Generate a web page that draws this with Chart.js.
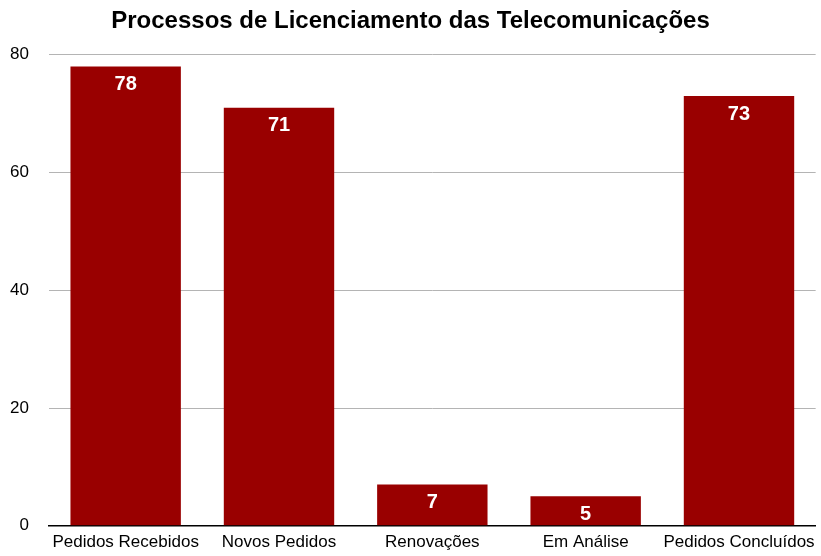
<!DOCTYPE html>
<html>
<head>
<meta charset="utf-8">
<script src="https://cdn.jsdelivr.net/npm/chart.js@4"></script>
<style>
  html, body { margin: 0; padding: 0; background: #ffffff; overflow: hidden; }
  #chart { display: block; width: 821px; height: 556px; }
</style>
</head>
<body>
<canvas id="chart" width="821" height="556"></canvas>
<script>
const categories = ["Pedidos Recebidos", "Novos Pedidos", "Renovações", "Em Análise", "Pedidos Concluídos"]
const values = [78, 71, 7, 5, 73]
const yTicks = [0, 20, 40, 60, 80]

const FONT = "Helvetica, Arial, 'Liberation Sans', sans-serif"

// Valores brancos dentro do topo de cada barra
const barLabels = {
  id: "barLabels",
  afterDatasetsDraw(chart) {
    const ctx = chart.ctx
    const meta = chart.getDatasetMeta(0)
    ctx.save()
    ctx.fillStyle = "#ffffff"
    ctx.font = "bold 20px " + FONT
    ctx.textAlign = "center"
    ctx.textBaseline = "middle"
    meta.data.forEach((bar, i) => {
      ctx.fillText(String(values[i]), bar.x, bar.y + 18)
    })
    ctx.restore()
  }
}

new Chart(document.getElementById("chart"), {
  type: "bar",
  data: {
    labels: categories,
    datasets: [{
      data: values,
      backgroundColor: "#990000",
      borderWidth: 0,
      categoryPercentage: 0.72,
      barPercentage: 1.0
    }]
  },
  options: {
    responsive: false,
    maintainAspectRatio: false,
    animation: false,
    layout: { autoPadding: false, padding: { left: 4, right: 4, top: 0, bottom: -4 } },
    plugins: {
      legend: { display: false },
      tooltip: { enabled: false },
      title: {
        display: true,
        text: "Processos de Licenciamento das Telecomunicações",
        color: "#000000",
        font: { family: FONT, size: 24, weight: "bold" },
        padding: { top: 7, bottom: 19 }
      }
    },
    scales: {
      x: {
        afterFit: (scale) => { scale.height = 27 },
        grid: { display: false, drawTicks: false },
        border: { color: "#000000", width: 1.5 },
        ticks: {
          color: "#000000",
          font: { family: FONT, size: 17 },
          padding: 6,
          maxRotation: 0,
          autoSkip: false
        }
      },
      y: {
        min: 0,
        max: 80,
        afterBuildTicks: (scale) => { scale.ticks = yTicks.map(v => ({ value: v })) },
        afterFit: (scale) => { scale.width = 45 },
        grid: {
          color: "#b4b4b4",
          lineWidth: 1,
          drawTicks: false
        },
        border: { display: false },
        ticks: {
          color: "#000000",
          font: { family: FONT, size: 17 },
          padding: 20
        }
      }
    }
  },
  plugins: [barLabels]
})
</script>
</body>
</html>
